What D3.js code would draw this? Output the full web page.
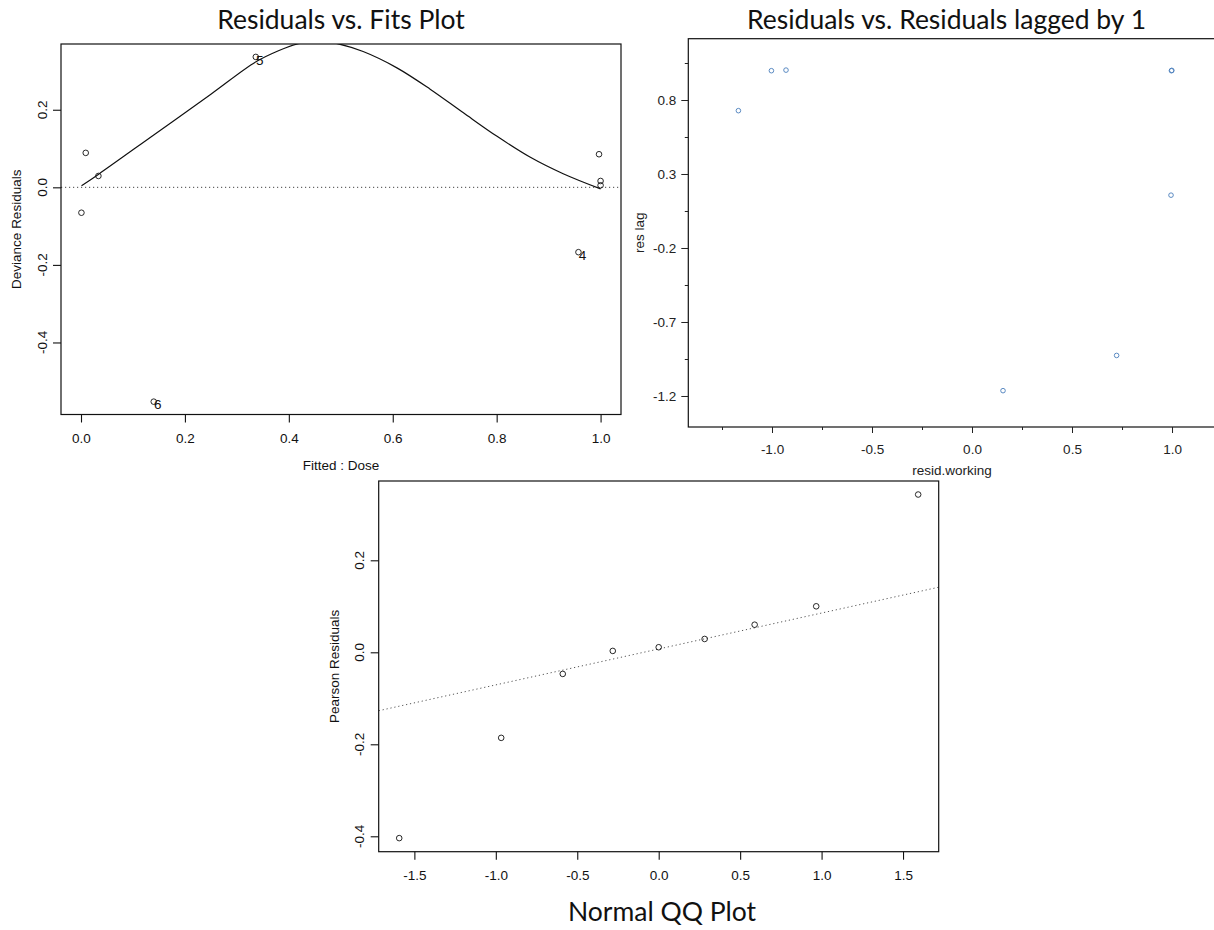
<!DOCTYPE html>
<html><head><meta charset="utf-8">
<script src="https://cdn.jsdelivr.net/npm/d3@7"></script>
<style>body{margin:0;background:#fff} svg{display:block}</style>
</head><body>
<script>
// ---------- Data: Residuals vs. Fits ----------
const fitsX = [0.0091, 0.0335, 0.0008, 0.3364, 0.997, 1.0, 1.0, 0.9574, 0.140];
const fitsY = [0.0888, 0.0293, -0.0655, 0.3362, 0.0853, 0.0164, 0.0052, -0.1672, -0.5526];
const fitsLabel = ["", "", "", "5", "", "", "", "4", "6"];
const smoothX = [0.001, 0.034, 0.14, 0.25, 0.336, 0.38, 0.415, 0.455, 0.495, 0.543, 0.608, 0.672, 0.736, 0.800, 0.864, 0.928, 1.0];
const smoothY = [0.004, 0.034, 0.135, 0.240, 0.323, 0.352, 0.369, 0.377, 0.370, 0.350, 0.308, 0.253, 0.192, 0.132, 0.078, 0.035, -0.004];
const fitsXTicks = [0.0, 0.2, 0.4, 0.6, 0.8, 1.0];
const fitsYTicks = [-0.4, -0.2, 0.0, 0.2];

// ---------- Data: Residuals vs. lagged residuals ----------
const lagX = [-1.168, -1.003, -0.930, 0.997, 0.999, 0.995, 0.723, 0.155];
const lagY = [0.728, 0.998, 1.002, 0.998, 1.000, 0.157, -0.926, -1.164];
const lagXTicks = [-1.0, -0.5, 0.0, 0.5, 1.0];
const lagXMinor = [-1.25, -0.75, -0.25, 0.25, 0.75];
const lagYTicks = [0.8, 0.3, -0.2, -0.7, -1.2];
const lagYMinor = [1.05, 0.55, 0.05, -0.45, -0.95];

// ---------- Data: Normal QQ ----------
const qqTheo = [-1.593, -0.967, -0.589, -0.282, 0.0, 0.282, 0.589, 0.967, 1.593];
const qqResid = [-0.404, -0.186, -0.047, 0.003, 0.011, 0.029, 0.060, 0.100, 0.343];
const qqLineX = [-1.719, 1.719];
const qqLineY = [-0.127, 0.1415];
const qqXTicks = [-1.5, -1.0, -0.5, 0.0, 0.5, 1.0, 1.5];
const qqYTicks = [-0.4, -0.2, 0.0, 0.2];

const W = 1214, H = 930;
const AX_FONT = "'Liberation Sans', Arial, Helvetica, sans-serif";
const TITLE_FONT = "Lato, 'Open Sans', sans-serif";
const fmt1 = v => v.toFixed(1);

const svg = d3.select("body").append("svg").attr("width", W).attr("height", H);
svg.append("rect").attr("width", W).attr("height", H).attr("fill", "#fff");

function frame(g, x0, y0, x1, y1) {
  g.append("rect").attr("x", x0).attr("y", y0).attr("width", x1 - x0).attr("height", y1 - y0)
    .attr("fill", "none").attr("stroke", "#111").attr("stroke-width", 1.2);
}

// R-style axis with rotated y labels
function rAxes(g, x, y, box, xt, yt, xTitle, yTitle) {
  const [x0, y0, x1, y1] = box;
  const ax = g.append("g").attr("transform", `translate(0,${y1})`)
    .call(d3.axisBottom(x).tickValues(xt).tickFormat(fmt1).tickSize(8).tickPadding(11));
  ax.select(".domain").remove();
  ax.selectAll("line").attr("stroke", "#111").attr("stroke-width", 1.1);
  ax.selectAll("text").attr("font-family", AX_FONT).attr("font-size", 13.5).attr("fill", "#111");
  const ay = g.append("g").attr("transform", `translate(${x0},0)`)
    .call(d3.axisLeft(y).tickValues(yt).tickFormat("").tickSize(8));
  ay.select(".domain").remove();
  ay.selectAll("line").attr("stroke", "#111").attr("stroke-width", 1.1);
  g.selectAll(null).data(yt).enter().append("text")
    .attr("transform", d => `translate(${x0 - 19},${y(d)}) rotate(-90)`)
    .attr("text-anchor", "middle").attr("dominant-baseline", "central")
    .attr("font-family", AX_FONT).attr("font-size", 13.5).attr("fill", "#111")
    .text(fmt1);
  g.append("text").attr("x", (x0 + x1) / 2).attr("y", y1 + 50.5)
    .attr("text-anchor", "middle").attr("dominant-baseline", "central")
    .attr("font-family", AX_FONT).attr("font-size", 13.5).attr("fill", "#111").text(xTitle);
  g.append("text").attr("transform", `translate(${x0 - 44.5},${(y0 + y1) / 2}) rotate(-90)`)
    .attr("text-anchor", "middle").attr("dominant-baseline", "central")
    .attr("font-family", AX_FONT).attr("font-size", 13.5).attr("fill", "#111").text(yTitle);
}

// ================= Panel 1: Residuals vs Fits =================
{
  const box = [61, 44, 621, 414.5];
  const g = svg.append("g");
  const x = d3.scaleLinear().domain([-0.0385, 1.0393]).range([box[0], box[2]]);
  const y = d3.scaleLinear().domain([-0.5857, 0.3695]).range([box[3], box[1]]);
  svg.append("defs").append("clipPath").attr("id", "clip1").append("rect")
    .attr("x", box[0]).attr("y", box[1]).attr("width", box[2] - box[0]).attr("height", box[3] - box[1]);
  g.append("line").attr("x1", box[0]).attr("x2", box[2]).attr("y1", y(0)).attr("y2", y(0))
    .attr("stroke", "#444").attr("stroke-width", 1).attr("stroke-dasharray", "1.2,2.8");
  const sm = smoothX.map((v, i) => [v, smoothY[i]]);
  g.append("path").attr("clip-path", "url(#clip1)")
    .attr("d", d3.line().x(d => x(d[0])).y(d => y(d[1])).curve(d3.curveCatmullRom.alpha(0.5))(sm))
    .attr("fill", "none").attr("stroke", "#111").attr("stroke-width", 1.2);
  const pts = fitsX.map((v, i) => ({ x: v, y: fitsY[i], l: fitsLabel[i] }));
  g.selectAll(null).data(pts).enter().append("circle")
    .attr("cx", d => x(d.x)).attr("cy", d => y(d.y)).attr("r", 2.8)
    .attr("fill", "none").attr("stroke", "#111").attr("stroke-width", 0.9);
  g.selectAll(null).data(pts.filter(d => d.l)).enter().append("text")
    .attr("x", d => x(d.x) + 4).attr("y", d => y(d.y) + 3.3)
    .attr("text-anchor", "middle").attr("dominant-baseline", "central")
    .attr("font-family", AX_FONT).attr("font-size", 13.5).attr("fill", "#111").text(d => d.l);
  frame(g, ...box);
  rAxes(g, x, y, box, fitsXTicks, fitsYTicks, "Fitted : Dose", "Deviance Residuals");
  svg.append("text").attr("x", 341).attr("y", 28.5).attr("text-anchor", "middle")
    .attr("font-family", TITLE_FONT).attr("font-size", 26.5).attr("fill", "#111")
    .text("Residuals vs. Fits Plot");
}

// ================= Panel 2: Residuals vs lagged =================
{
  const box = [688.3, 38.7, 1216, 427];
  const g = svg.append("g");
  const x = d3.scaleLinear().domain([-1.4185, 1.2199]).range([box[0], box[2]]);
  const y = d3.scaleLinear().domain([-1.4095, 1.2142]).range([box[3], box[1]]);
  g.selectAll(null).data(lagX.map((v, i) => [v, lagY[i]])).enter().append("circle")
    .attr("cx", d => x(d[0])).attr("cy", d => y(d[1])).attr("r", 2.3)
    .attr("fill", "none").attr("stroke", "#4a7ebb").attr("stroke-width", 0.9);
  frame(g, ...box);
  const style = sel => {
    sel.select(".domain").remove();
    sel.selectAll("line").attr("stroke", "#222").attr("stroke-width", 1);
    sel.selectAll("text").attr("font-family", AX_FONT).attr("font-size", 13.5).attr("fill", "#222");
  };
  g.append("g").attr("transform", `translate(0,${box[3]})`)
    .call(d3.axisBottom(x).tickValues(lagXTicks).tickFormat(fmt1).tickSize(6).tickPadding(11)).call(style);
  g.append("g").attr("transform", `translate(0,${box[3]})`)
    .call(d3.axisBottom(x).tickValues(lagXMinor).tickFormat("").tickSize(3)).call(style);
  g.append("g").attr("transform", `translate(${box[0]},0)`)
    .call(d3.axisLeft(y).tickValues(lagYTicks).tickFormat(fmt1).tickSize(7).tickPadding(5)).call(style);
  g.append("g").attr("transform", `translate(${box[0]},0)`)
    .call(d3.axisLeft(y).tickValues(lagYMinor).tickFormat("").tickSize(3.5)).call(style);
  g.append("text").attr("x", 952).attr("y", 470.7)
    .attr("text-anchor", "middle").attr("dominant-baseline", "central")
    .attr("font-family", AX_FONT).attr("font-size", 13.5).attr("fill", "#222").text("resid.working");
  g.append("text").attr("transform", `translate(639,${(box[1] + box[3]) / 2}) rotate(-90)`)
    .attr("text-anchor", "middle").attr("dominant-baseline", "central")
    .attr("font-family", AX_FONT).attr("font-size", 13.5).attr("fill", "#222").text("res lag");
  svg.append("text").attr("x", 946.5).attr("y", 28.5).attr("text-anchor", "middle")
    .attr("font-family", TITLE_FONT).attr("font-size", 26.5).attr("fill", "#111")
    .text("Residuals vs. Residuals lagged by 1");
}

// ================= Panel 3: Normal QQ =================
{
  const box = [378.7, 481, 938.7, 851.7];
  const g = svg.append("g");
  const x = d3.scaleLinear().domain([-1.719, 1.719]).range([box[0], box[2]]);
  const y = d3.scaleLinear().domain([-0.4335, 0.3724]).range([box[3], box[1]]);
  g.append("line").attr("x1", x(qqLineX[0])).attr("x2", x(qqLineX[1]))
    .attr("y1", y(qqLineY[0])).attr("y2", y(qqLineY[1]))
    .attr("stroke", "#555").attr("stroke-width", 1).attr("stroke-dasharray", "1.2,2.8");
  g.selectAll(null).data(qqTheo.map((v, i) => [v, qqResid[i]])).enter().append("circle")
    .attr("cx", d => x(d[0])).attr("cy", d => y(d[1])).attr("r", 2.8)
    .attr("fill", "none").attr("stroke", "#111").attr("stroke-width", 0.9);
  frame(g, ...box);
  rAxes(g, x, y, box, qqXTicks, qqYTicks, "", "Pearson Residuals");
  svg.append("text").attr("x", 662).attr("y", 921).attr("text-anchor", "middle")
    .attr("font-family", TITLE_FONT).attr("font-size", 26.5).attr("fill", "#111")
    .text("Normal QQ Plot");
}
</script>
</body></html>
